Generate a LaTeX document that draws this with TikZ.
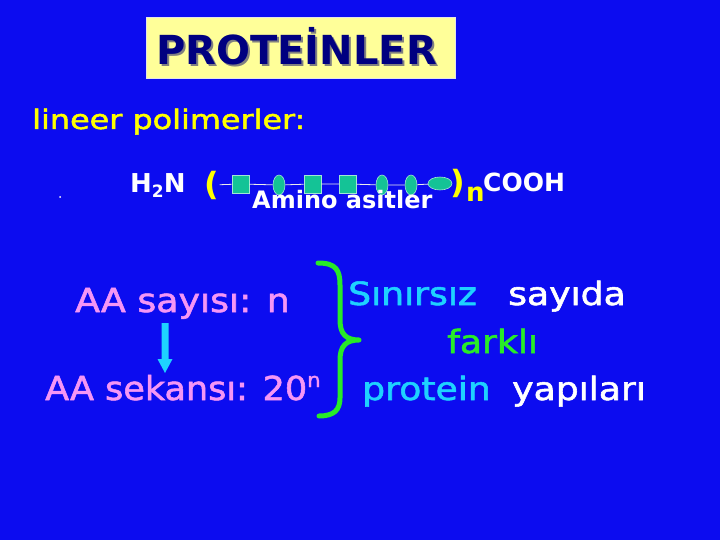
\documentclass[tikz,border=0pt]{standalone}
\usepackage{fontspec}
\usepackage{graphicx}
\setmainfont{DejaVu Sans}
\newfontfamily\comic[FakeBold=1.6]{DejaVu Sans}
\usetikzlibrary{shapes.geometric}
\definecolor{bg}{RGB}{12,12,240}
\definecolor{ttlfill}{RGB}{255,255,153}
\definecolor{navy}{RGB}{0,0,128}
\definecolor{yel}{RGB}{255,255,0}
\definecolor{pink}{RGB}{245,150,245}
\definecolor{cyn}{RGB}{30,210,255}
\definecolor{grn}{RGB}{40,235,40}
\definecolor{teal2}{RGB}{20,195,150}
\newcommand\hs[2]{\scalebox{#1}[1]{#2}}
\tikzset{
  txt/.style={inner sep=0pt, anchor=base west},
  sq/.style={draw=white!60!teal2, line width=0.6pt, fill=teal2, minimum width=17pt, minimum height=18pt, inner sep=0pt},
  el/.style={draw=white!60!teal2, line width=0.6pt, fill=teal2, ellipse, minimum width=12pt, minimum height=20pt, inner sep=0pt},
  elh/.style={draw=white!60!teal2, line width=0.6pt, fill=teal2, ellipse, minimum width=24pt, minimum height=13pt, inner sep=0pt},
}
\begin{document}
\begin{tikzpicture}[x=1pt,y=-1pt]
\fill[bg] (0,0) rectangle (720,540);
\useasboundingbox (0,0) rectangle (720,540);
% title
\node[draw=white!80!gray, line width=0.8pt, fill=ttlfill, minimum width=309pt, minimum height=61pt, inner sep=0pt] (box) at (300.5,47.5) {};
\node[inner sep=0pt, text=navy] (title) at (296.5,47.5) {\fontsize{40}{40}\selectfont\bfseries\rlap{\hspace{2pt}\raisebox{-2pt}{\textcolor{gray}{PROTEİNLER}}}PROTEİNLER};
% lineer polimerler
\node[txt, text=yel] (lin) at (32,129) {\fontsize{27}{27}\comic\hs{1.18}{lineer polimerler:}};
\fill[white] (60,197) circle (1pt);
% chain
\node[txt, text=white] (h2n) at (130,193) {\fontsize{26}{26}\selectfont\bfseries H\raisebox{-5pt}{\fontsize{17}{17}\selectfont 2}N};
\node[inner sep=0pt, text=yel] (lp) at (212,185) {\fontsize{32}{32}\selectfont\bfseries (};
\node[sq] (s1) at (240.5,184) {};
\node[el] (e1) at (279,185) {};
\node[sq] (s2) at (312.5,184) {};
\node[sq] (s3) at (348,184) {};
\node[el] (e2) at (382,185) {};
\node[el] (e3) at (411,185) {};
\node[elh] (e4) at (440,183.5) {};
\draw[white!85!gray, line width=0.8pt] (lp) -- (s1) -- (e1) -- (s2) -- (s3) -- (e2) -- (e3) -- (e4);
\node[inner sep=0pt, text=yel] (rp) at (458,183) {\fontsize{32}{32}\selectfont\bfseries )};
\node[txt, text=yel] (nn) at (466,202) {\fontsize{26}{26}\selectfont\bfseries n};
\node[txt, text=white] (cooh) at (483,192) {\fontsize{25}{25}\selectfont\bfseries COOH};
\node[txt, text=white] (amino) at (252,209) {\fontsize{24}{24}\selectfont\bfseries Amino asitler};
% left texts
\node[txt, text=pink] (say) at (75,312) {\fontsize{33}{33}\comic\hs{1.1}{AA sayısı: n}};
\node[txt, text=pink] (sek) at (45,400) {\fontsize{33}{33}\comic\hs{1.06}{AA sekansı: 20\raisebox{13pt}{\fontsize{20}{20}\comic n}}};
% arrow
\fill[cyn] (161.5,323) -- (168.5,323) -- (168.5,359) -- (172.5,359) -- (165,373) -- (157.5,359) -- (161.5,359) -- cycle;
% brace
\draw[grn, line width=5pt, line cap=round, line join=round]
  (318,263) .. controls (336,263) and (340,270) .. (340,285) -- (340,320)
  .. controls (340,334) and (346,340) .. (359,340)
  .. controls (346,340) and (340,346) .. (340,360) -- (340,398)
  .. controls (340,410) and (334,416) .. (319,416);
% right texts
\node[txt, text=cyn] (sin) at (348,305) {\fontsize{32}{32}\comic\hs{1.13}{Sınırsız}};
\node[txt, text=white] (sayida) at (508,305) {\fontsize{32}{32}\comic\hs{1.13}{sayıda}};
\node[txt, text=grn] (fark) at (447,353) {\fontsize{32}{32}\comic\hs{1.13}{farklı}};
\node[txt, text=cyn] (prot) at (362,400) {\fontsize{32}{32}\comic\hs{1.13}{protein}};
\node[txt, text=white] (yap) at (512,400) {\fontsize{32}{32}\comic\hs{1.13}{yapıları}};
\end{tikzpicture}
\end{document}
